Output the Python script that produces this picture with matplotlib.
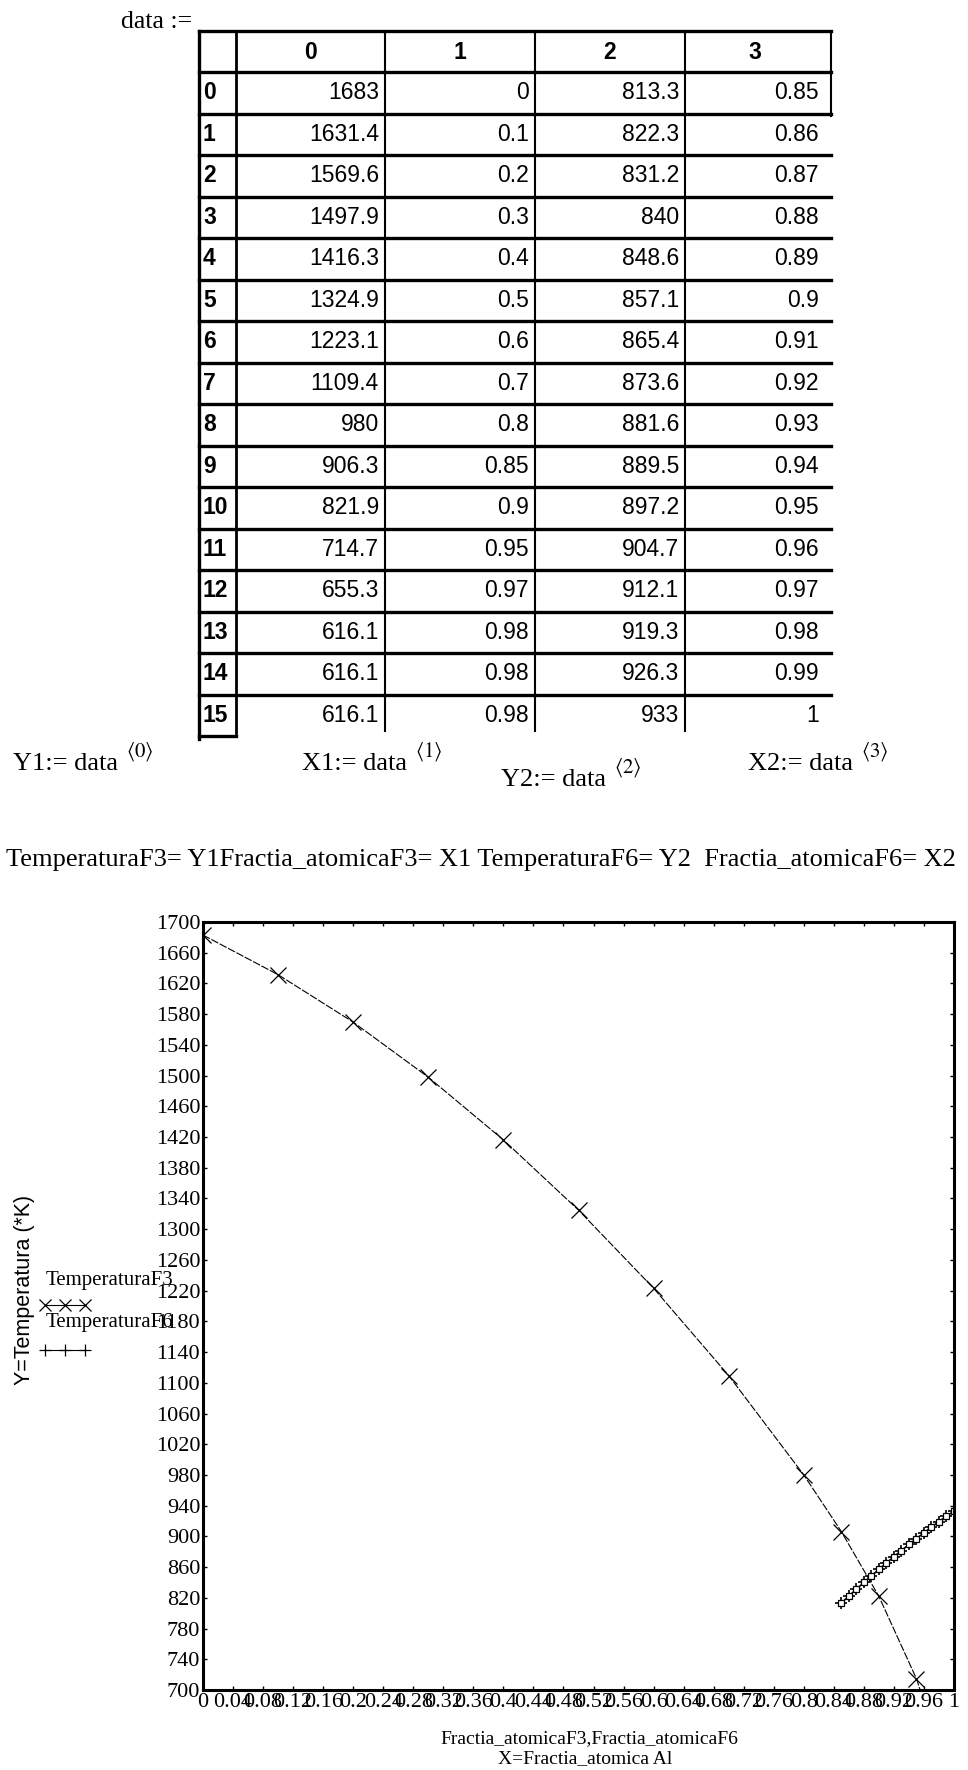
import numpy as np
import matplotlib.pyplot as plt

plt.rcParams["mathtext.fontset"] = "stix"

# ── data (Mathcad matrix "data") ─────────────────────────────────────────────
row_idx = list(range(16))
temp_f3 = [1683, 1631.4, 1569.6, 1497.9, 1416.3, 1324.9, 1223.1, 1109.4,
           980, 906.3, 821.9, 714.7, 655.3, 616.1, 616.1, 616.1]
frac_f3 = [0, 0.1, 0.2, 0.3, 0.4, 0.5, 0.6, 0.7,
           0.8, 0.85, 0.9, 0.95, 0.97, 0.98, 0.98, 0.98]
temp_f6 = [813.3, 822.3, 831.2, 840, 848.6, 857.1, 865.4, 873.6,
           881.6, 889.5, 897.2, 904.7, 912.1, 919.3, 926.3, 933]
frac_f6 = [0.85, 0.86, 0.87, 0.88, 0.89, 0.9, 0.91, 0.92,
           0.93, 0.94, 0.95, 0.96, 0.97, 0.98, 0.99, 1]
columns = [temp_f3, frac_f3, temp_f6, frac_f6]
col_names = ["0", "1", "2", "3"]

y_ticks = np.arange(700, 1701, 40)
x_ticks = np.round(np.arange(0, 1.0001, 0.04), 2)

serif = "Liberation Serif"
sans = "Liberation Sans"

W, H = 968, 1770
fig = plt.figure(figsize=(W / 100, H / 100), dpi=100)

# overlay in pixel coords for the worksheet part
ov = fig.add_axes([0, 0, 1, 1])
ov.set_xlim(0, W)
ov.set_ylim(H, 0)
ov.axis("off")

# ── table ────────────────────────────────────────────────────────────────────
x_left, x_idx = 199, 236
col_right = [385, 535, 685, 825]
y_top, y_head = 31, 72
row_h = 41.5
n = len(row_idx)
y_end = y_head + row_h * n

ov.text(192, 22, "data :=", family=serif, fontsize=18.5, ha="right", va="center")
ov.plot([x_left, col_right[-1] + 6], [y_top, y_top], color="k", lw=2.4)
ov.plot([x_left, col_right[-1] + 6], [y_head, y_head], color="k", lw=2.4)
for i in range(n - 1):
    yy = y_head + row_h * (i + 1)
    ov.plot([x_left, col_right[-1] + 6], [yy, yy], color="k", lw=2.4)
ov.plot([x_left, x_idx], [y_end, y_end], color="k", lw=2.4)
ov.plot([x_left, x_left], [y_top, y_end + 3], color="k", lw=2.4)
ov.plot([x_idx, x_idx], [y_top, y_end - 3], color="k", lw=2.0)
for xr in col_right[:-1]:
    ov.plot([xr, xr], [y_top, y_end - 5], color="k", lw=1.5)
ov.plot([831, 831], [y_top, y_head + row_h + 2], color="k", lw=1.5)

cx = [x_idx] + col_right
for j, name in enumerate(col_names):
    ov.text((cx[j] + cx[j + 1]) / 2, (y_top + y_head) / 2 + 1, name,
            family=sans, fontsize=16.5, fontweight="bold", ha="center", va="center")
for i in row_idx:
    yc = y_head + row_h * (i + 0.5)
    ov.text(x_left + 4, yc, str(i), family=sans, fontsize=16.5,
            fontweight="bold", ha="left", va="center")
    for j, col in enumerate(columns):
        ov.text(col_right[j] - 6, yc, f"{col[i]:g}", family=sans, fontsize=16.5,
                ha="right", va="center")

# ── column assignments ──────────────────────────────────────────────────────
assign = [("Y1", 0, 13, 764), ("X1", 1, 302, 764), ("Y2", 2, 501, 780), ("X2", 3, 748, 764)]
for name, k, xx, yy in assign:
    t = ov.text(xx, yy, f"{name}:= data", family=serif, fontsize=19,
                ha="left", va="center")
    ov.annotate(rf"$\langle{k}\rangle$", xy=(1, 0.5), xycoords=t,
                xytext=(6, 9), textcoords="offset points", fontsize=15,
                va="center", ha="left")

ov.text(6, 860, "TemperaturaF3= Y1Fractia_atomicaF3= X1 TemperaturaF6= Y2  "
        "Fractia_atomicaF6= X2", family=serif, fontsize=19, ha="left", va="center")

# ── plot ─────────────────────────────────────────────────────────────────────
ax = fig.add_axes([203 / W, 1 - 1690 / H, (954 - 203) / W, (1690 - 922) / H])
ax.plot(frac_f3, temp_f3, color="k", lw=0.8, ls=(0, (7, 1.5)),
        marker="x", ms=11, mew=0.9, label="TemperaturaF3")
ax.plot(frac_f6, temp_f6, color="k", lw=1.2, marker="+", ms=9, mew=1.2,
        label="TemperaturaF6")
ax.plot(frac_f6, temp_f6, ls="none", marker="s", ms=4.5, mfc="white",
        mec="k", mew=0.9)
ax.set_xlim(0, 1)
ax.set_ylim(700, 1700)
ax.set_yticks(y_ticks)
ax.set_yticklabels([f"{v:g}" for v in y_ticks], family=serif, fontsize=16)
ax.set_xticks(x_ticks)
ax.set_xticklabels([f"{v:g}" for v in x_ticks], family=serif, fontsize=16)
ax.tick_params(direction="in", length=3, width=1, pad=2, top=True, right=True)
for s in ax.spines.values():
    s.set_linewidth(2.2)

# legend drawn Mathcad-style (label above the line sample)
ov.text(46, 1280, "TemperaturaF3", family=serif, fontsize=15, ha="left", va="center")
ov.plot([45, 65, 85], [1305] * 3, color="k", lw=0.8, marker="x", ms=9, mew=0.9)
ov.text(46, 1323, "TemperaturaF6", family=serif, fontsize=15, ha="left", va="center")
ov.plot([45, 65, 85], [1350] * 3, color="k", lw=0.8, marker="+", ms=9, mew=0.9)

fig.text(25 / W, 1 - 1290 / H, "Y=Temperatura (*K)", family=sans, fontsize=15.5,
         rotation=90, ha="center", va="center")
fig.text(589 / W, 1 - 1739 / H, "Fractia_atomicaF3,Fractia_atomicaF6",
         family=serif, fontsize=14, ha="center", va="center")
fig.text(585 / W, 1 - 1759 / H, "X=Fractia_atomica Al",
         family=serif, fontsize=14, ha="center", va="center")

fig.savefig("out.png", dpi=100)
